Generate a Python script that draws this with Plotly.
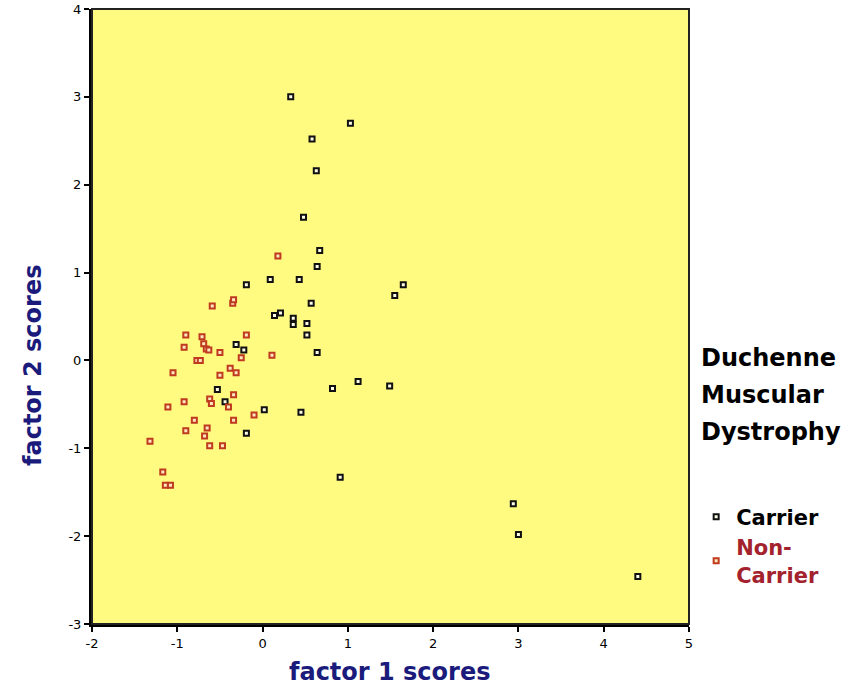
import plotly.graph_objects as go

# Carrier (black) factor scores
carrier_x = [0.33, 1.03, 0.58, 0.63, 0.48, 0.67, 0.64, 0.09, 0.43, -0.19, 1.65, 1.55,
             0.57, 0.21, 0.14, 0.36, 0.36, 0.52, 0.52, 0.64, -0.31, -0.22, 1.12, 1.49,
             0.82, -0.53, -0.44, 0.02, 0.45, -0.19, 0.91, 2.94, 3.00, 4.40]
carrier_y = [3.00, 2.70, 2.52, 2.16, 1.63, 1.25, 1.07, 0.92, 0.92, 0.86, 0.86, 0.74,
             0.65, 0.54, 0.51, 0.48, 0.41, 0.42, 0.29, 0.09, 0.18, 0.12, -0.24, -0.29,
             -0.32, -0.33, -0.47, -0.56, -0.59, -0.83, -1.33, -1.63, -1.98, -2.46]

# Non-carrier (red) factor scores
noncarrier_x = [0.18, -0.59, -0.35, -0.34, -0.90, -0.71, -0.19, -0.92, -0.69, -0.66, -0.63,
                -0.50, 0.11, -0.25, -0.77, -0.73, -0.38, -0.31, -0.50, -1.05, -0.34, -0.92,
                -0.62, -0.60, -0.40, -1.11, -0.10, -0.80, -0.34, -0.90, -0.65, -0.68, -1.32,
                -0.62, -0.47, -1.17, -1.14, -1.08]
noncarrier_y = [1.19, 0.62, 0.65, 0.69, 0.29, 0.27, 0.29, 0.15, 0.19, 0.13, 0.12,
                0.09, 0.06, 0.03, 0.00, 0.00, -0.09, -0.14, -0.17, -0.14, -0.39, -0.47,
                -0.44, -0.49, -0.53, -0.53, -0.62, -0.68, -0.68, -0.80, -0.77, -0.86, -0.92,
                -0.97, -0.97, -1.27, -1.42, -1.42]

x_ticks = [-2, -1, 0, 1, 2, 3, 4, 5]
y_ticks = [-3, -2, -1, 0, 1, 2, 3, 4]

NAVY = "#1b1b7c"
RED = "#bf3a1f"
DARKRED = "#a3222d"
BG = "#fffa80"
FONT = "DejaVu Sans, Verdana, sans-serif"

fig = go.Figure()
fig.add_trace(go.Scatter(
    x=carrier_x, y=carrier_y, mode="markers", name="<b>Carrier</b>",
    marker=dict(symbol="square", size=5, color="#fffde8",
                line=dict(color="#111111", width=2)),
))
fig.add_trace(go.Scatter(
    x=noncarrier_x, y=noncarrier_y, mode="markers",
    name="<b><span style='color:%s'>Non-</span></b><br><b><span style='color:%s'>Carrier</span></b>" % (DARKRED, DARKRED),
    marker=dict(symbol="square", size=5, color="#fde8c0",
                line=dict(color=RED, width=2)),
))

axis_common = dict(
    showgrid=False, zeroline=False, showline=True, linecolor="black", linewidth=3,
    ticks="outside", ticklen=5, tickwidth=2, tickcolor="black", automargin=False,
    tickfont=dict(family=FONT, size=13, color="black"),
)

fig.update_layout(
    width=859, height=687,
    margin=dict(l=92, r=170, t=9, b=63),
    paper_bgcolor="white", plot_bgcolor=BG,
    showlegend=True,
    legend=dict(x=1.012, y=0.207, xanchor="left", yanchor="top",
                font=dict(family=FONT, size=21, color="black"),
                itemwidth=30, tracegroupgap=14, bgcolor="rgba(0,0,0,0)"),
    xaxis=dict(range=[-2, 5], tickvals=x_ticks, ticktext=[str(v) for v in x_ticks],
               **axis_common),
    yaxis=dict(range=[-3, 4], tickvals=y_ticks, ticktext=[str(v) for v in y_ticks],
               **axis_common),
)

# plot frame (top/right borders)
fig.add_shape(type="rect", xref="paper", yref="paper", x0=0, y0=0, x1=1, y1=1,
              line=dict(color="#222222", width=2), fillcolor="rgba(0,0,0,0)", layer="above")

# axis titles, placed like the reference
fig.add_annotation(text="<b>factor 1 scores</b>", xref="paper", yref="paper",
                   x=0.499, y=-0.078, xanchor="center", yanchor="middle", showarrow=False,
                   font=dict(family=FONT, size=24, color=NAVY))
fig.add_annotation(text="<b>factor 2 scores</b>", xref="paper", yref="paper",
                   x=-0.099, y=0.421, xanchor="center", yanchor="middle",
                   textangle=-90, showarrow=False,
                   font=dict(family=FONT, size=24, color=NAVY))

# legend heading
for i, line in enumerate(["Duchenne", "Muscular", "Dystrophy"]):
    fig.add_annotation(text="<b>%s</b>" % line, xref="paper", yref="paper",
                       x=1.016, y=(624 - 358 - 37 * i) / 615, xanchor="left", yanchor="middle",
                       showarrow=False,
                       font=dict(family=FONT, size=24, color="black"))

fig.write_html("out.html")
